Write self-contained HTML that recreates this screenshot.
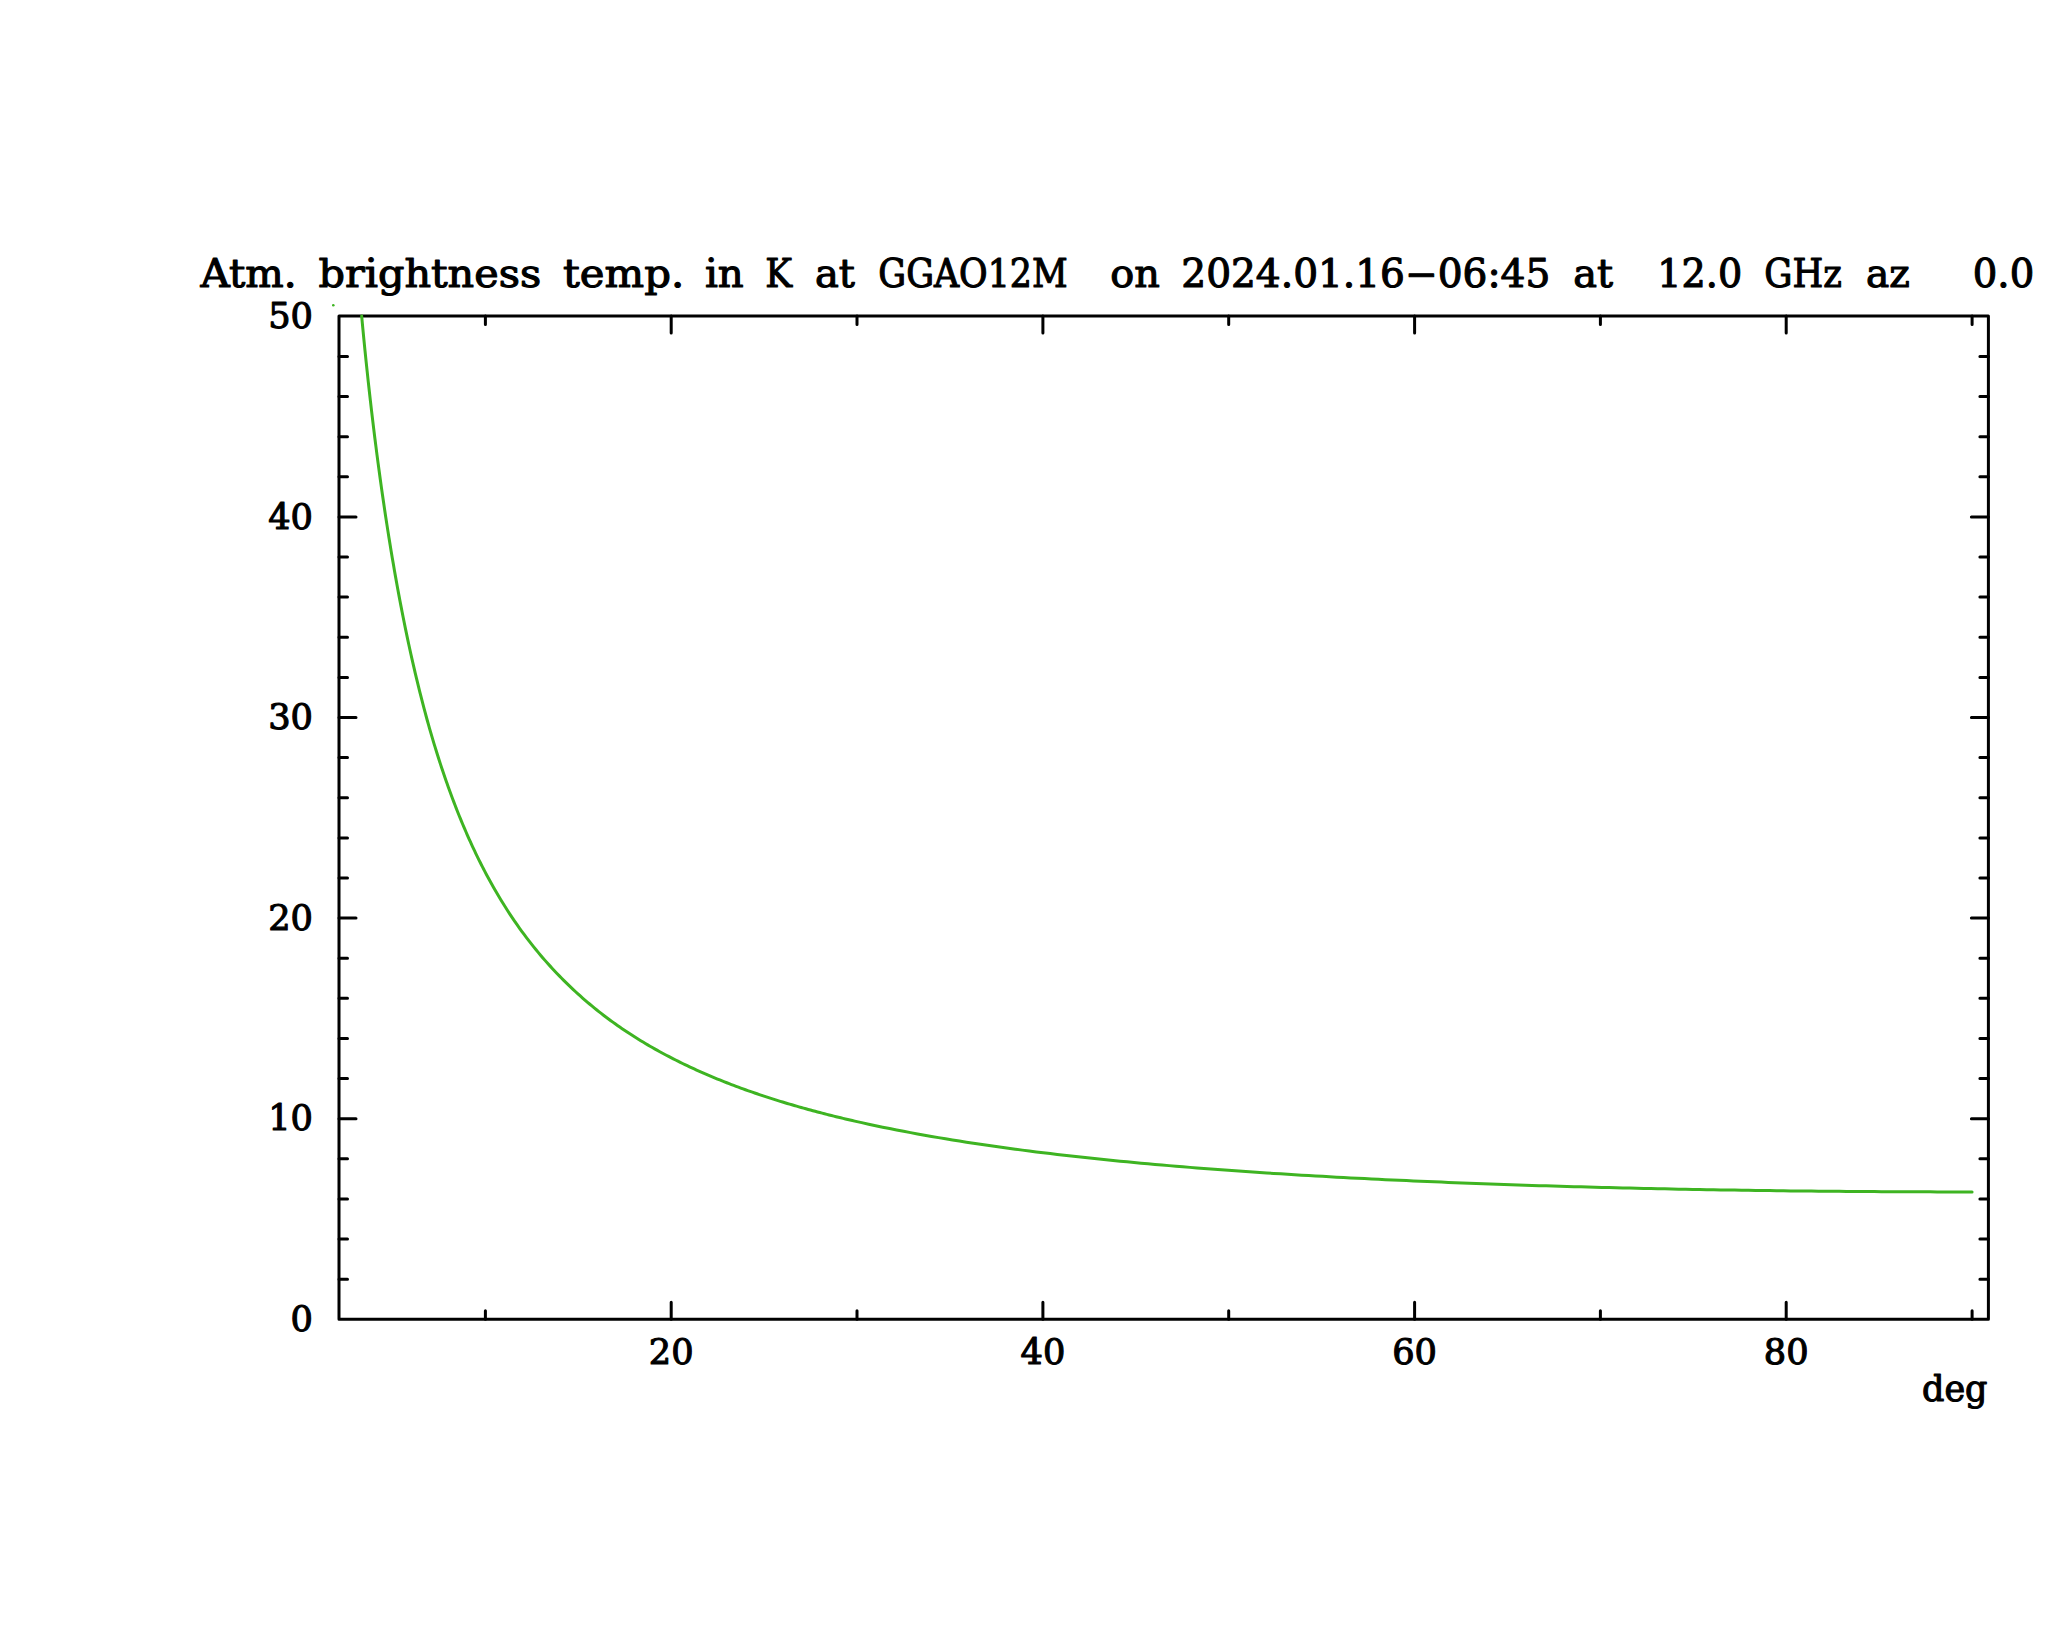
<!DOCTYPE html>
<html><head><meta charset="utf-8"><title>Atm. brightness temp.</title>
<style>
html,body{margin:0;padding:0;background:#fff}
svg{display:block}
text{font-family:"DejaVu Serif","Liberation Serif",serif;fill:#000;stroke:#000;stroke-width:1.1px;stroke-linejoin:round}
.t{font-size:38.3px}
.a{font-size:34.8px}
.d{font-size:35px}
</style></head><body>
<svg width="2048" height="1635" viewBox="0 0 2048 1635">
<rect width="2048" height="1635" fill="#fff"/>
<rect x="339.0" y="316.0" width="1649.4" height="1003.3" fill="none" stroke="#000" stroke-width="3" stroke-linejoin="round"/>
<path d="M485.4 1319.3L485.4 1310.8M485.4 316.0L485.4 324.5M671.2 1319.3L671.2 1302.3M671.2 316.0L671.2 333.0M857.0 1319.3L857.0 1310.8M857.0 316.0L857.0 324.5M1042.9 1319.3L1042.9 1302.3M1042.9 316.0L1042.9 333.0M1228.7 1319.3L1228.7 1310.8M1228.7 316.0L1228.7 324.5M1414.6 1319.3L1414.6 1302.3M1414.6 316.0L1414.6 333.0M1600.4 1319.3L1600.4 1310.8M1600.4 316.0L1600.4 324.5M1786.2 1319.3L1786.2 1302.3M1786.2 316.0L1786.2 333.0M1972.1 1319.3L1972.1 1310.8M1972.1 316.0L1972.1 324.5M339.0 1279.2L347.5 1279.2M1988.4 1279.2L1979.9 1279.2M339.0 1239.1L347.5 1239.1M1988.4 1239.1L1979.9 1239.1M339.0 1198.9L347.5 1198.9M1988.4 1198.9L1979.9 1198.9M339.0 1158.8L347.5 1158.8M1988.4 1158.8L1979.9 1158.8M339.0 1118.7L356.0 1118.7M1988.4 1118.7L1971.4 1118.7M339.0 1078.6L347.5 1078.6M1988.4 1078.6L1979.9 1078.6M339.0 1038.5L347.5 1038.5M1988.4 1038.5L1979.9 1038.5M339.0 998.3L347.5 998.3M1988.4 998.3L1979.9 998.3M339.0 958.2L347.5 958.2M1988.4 958.2L1979.9 958.2M339.0 918.1L356.0 918.1M1988.4 918.1L1971.4 918.1M339.0 878.0L347.5 878.0M1988.4 878.0L1979.9 878.0M339.0 837.9L347.5 837.9M1988.4 837.9L1979.9 837.9M339.0 797.7L347.5 797.7M1988.4 797.7L1979.9 797.7M339.0 757.6L347.5 757.6M1988.4 757.6L1979.9 757.6M339.0 717.5L356.0 717.5M1988.4 717.5L1971.4 717.5M339.0 677.4L347.5 677.4M1988.4 677.4L1979.9 677.4M339.0 637.3L347.5 637.3M1988.4 637.3L1979.9 637.3M339.0 597.1L347.5 597.1M1988.4 597.1L1979.9 597.1M339.0 557.0L347.5 557.0M1988.4 557.0L1979.9 557.0M339.0 516.9L356.0 516.9M1988.4 516.9L1971.4 516.9M339.0 476.8L347.5 476.8M1988.4 476.8L1979.9 476.8M339.0 436.7L347.5 436.7M1988.4 436.7L1979.9 436.7M339.0 396.5L347.5 396.5M1988.4 396.5L1979.9 396.5M339.0 356.4L347.5 356.4M1988.4 356.4L1979.9 356.4" fill="none" stroke="#000" stroke-width="3" stroke-linecap="round"/>
<path d="M361.66 316.00 L361.72 316.69 L362.82 328.34 L363.91 339.64 L365.00 350.62 L366.10 361.31 L367.19 371.71 L368.28 381.86 L369.38 391.76 L370.47 401.42 L371.56 410.87 L372.66 420.10 L373.75 429.13 L374.84 437.97 L375.94 446.62 L377.03 455.10 L378.12 463.40 L379.22 471.54 L380.31 479.52 L381.40 487.35 L382.49 495.03 L383.59 502.57 L384.68 509.97 L385.77 517.23 L386.87 524.36 L387.96 531.37 L389.05 538.25 L390.15 545.01 L391.24 551.65 L392.33 558.19 L393.43 564.60 L394.52 570.92 L395.61 577.12 L396.71 583.22 L397.80 589.23 L398.89 595.13 L399.99 600.94 L401.08 606.65 L402.17 612.28 L403.26 617.81 L404.36 623.26 L405.45 628.62 L406.54 633.90 L407.64 639.09 L408.73 644.21 L409.82 649.25 L410.92 654.21 L412.01 659.10 L413.10 663.91 L414.20 668.66 L415.29 673.33 L416.38 677.93 L417.48 682.47 L418.57 686.94 L419.66 691.35 L420.76 695.69 L421.85 699.97 L422.94 704.19 L424.04 708.35 L425.13 712.46 L426.22 716.50 L427.31 720.49 L428.41 724.43 L429.51 728.31 L430.61 732.13 L431.71 735.91 L432.82 739.63 L433.92 743.31 L435.02 746.93 L436.13 750.51 L437.23 754.04 L438.33 757.53 L439.44 760.96 L440.54 764.36 L441.64 767.71 L442.75 771.02 L443.85 774.28 L444.95 777.50 L446.06 780.69 L447.16 783.83 L448.26 786.93 L449.37 790.00 L450.47 793.02 L451.57 796.01 L452.68 798.97 L453.78 801.88 L454.88 804.77 L455.99 807.61 L457.09 810.43 L458.19 813.21 L459.30 815.95 L460.40 818.67 L461.50 821.35 L462.61 824.00 L463.71 826.62 L464.81 829.21 L465.92 831.77 L467.02 834.30 L468.12 836.80 L469.23 839.27 L470.33 841.72 L471.43 844.14 L472.54 846.53 L473.64 848.89 L474.74 851.23 L475.84 853.54 L476.95 855.83 L478.05 858.09 L479.15 860.33 L480.26 862.54 L481.36 864.73 L482.46 866.89 L483.57 869.04 L484.67 871.16 L486.55 874.71 L488.89 879.07 L491.24 883.33 L493.59 887.50 L495.94 891.58 L498.28 895.57 L500.63 899.48 L502.98 903.31 L505.33 907.06 L507.67 910.73 L510.02 914.32 L512.37 917.85 L514.72 921.30 L517.06 924.69 L519.41 928.01 L521.76 931.26 L524.10 934.45 L526.45 937.58 L528.80 940.65 L531.15 943.67 L533.49 946.62 L535.84 949.53 L538.19 952.37 L540.54 955.17 L542.88 957.92 L545.23 960.62 L547.58 963.27 L549.93 965.87 L552.27 968.43 L554.62 970.94 L556.97 973.42 L559.32 975.84 L561.65 978.23 L563.97 980.58 L566.30 982.89 L568.63 985.16 L570.95 987.39 L573.28 989.59 L575.60 991.75 L577.93 993.88 L580.26 995.97 L582.58 998.03 L584.91 1000.06 L587.23 1002.06 L589.56 1004.02 L591.88 1005.96 L594.21 1007.86 L596.54 1009.74 L598.86 1011.59 L601.19 1013.41 L603.51 1015.20 L605.84 1016.97 L608.17 1018.71 L610.49 1020.43 L612.82 1022.12 L615.14 1023.79 L617.47 1025.43 L619.80 1027.05 L622.12 1028.65 L624.45 1030.22 L626.77 1031.78 L629.10 1033.31 L631.43 1034.82 L633.75 1036.31 L636.08 1037.78 L638.40 1039.23 L640.73 1040.66 L643.06 1042.07 L645.38 1043.47 L647.71 1044.84 L650.03 1046.20 L652.36 1047.54 L654.68 1048.86 L657.01 1050.17 L659.34 1051.45 L661.66 1052.73 L663.99 1053.98 L666.31 1055.22 L668.64 1056.45 L670.97 1057.66 L673.29 1058.85 L675.62 1060.03 L677.94 1061.20 L680.27 1062.35 L682.60 1063.49 L684.92 1064.61 L687.25 1065.72 L689.57 1066.82 L691.90 1067.90 L694.23 1068.98 L696.55 1070.04 L698.88 1071.08 L701.20 1072.12 L703.53 1073.14 L705.86 1074.15 L708.18 1075.15 L710.51 1076.14 L712.83 1077.12 L715.16 1078.08 L717.48 1079.04 L719.81 1079.98 L722.14 1080.92 L724.46 1081.84 L726.79 1082.76 L729.11 1083.66 L731.44 1084.56 L733.77 1085.44 L736.09 1086.32 L738.42 1087.18 L740.74 1088.04 L743.07 1088.89 L745.40 1089.73 L747.72 1090.56 L750.05 1091.38 L752.37 1092.19 L754.70 1092.99 L757.03 1093.79 L759.35 1094.58 L761.68 1095.36 L764.00 1096.13 L766.33 1096.89 L768.65 1097.65 L770.98 1098.40 L773.31 1099.14 L775.63 1099.87 L777.96 1100.60 L780.28 1101.32 L782.61 1102.03 L784.94 1102.74 L787.26 1103.44 L789.59 1104.13 L791.91 1104.81 L794.24 1105.49 L796.57 1106.16 L798.89 1106.83 L801.22 1107.49 L803.54 1108.14 L805.87 1108.79 L808.20 1109.43 L810.52 1110.07 L812.85 1110.69 L815.17 1111.32 L817.50 1111.93 L819.83 1112.55 L822.15 1113.15 L824.48 1113.75 L826.80 1114.35 L829.13 1114.94 L831.45 1115.52 L833.78 1116.10 L836.11 1116.68 L838.43 1117.24 L840.76 1117.81 L843.08 1118.37 L845.41 1118.92 L847.74 1119.47 L850.06 1120.01 L852.39 1120.55 L854.71 1121.09 L857.04 1121.62 L861.69 1122.66 L868.67 1124.20 L875.65 1125.70 L882.64 1127.16 L889.62 1128.58 L896.60 1129.97 L903.59 1131.33 L910.57 1132.65 L917.55 1133.94 L924.54 1135.20 L931.52 1136.43 L938.51 1137.64 L945.49 1138.81 L952.47 1139.96 L959.46 1141.08 L966.44 1142.18 L973.42 1143.25 L980.41 1144.30 L987.39 1145.32 L994.37 1146.32 L1001.36 1147.30 L1008.34 1148.26 L1015.33 1149.20 L1022.31 1150.12 L1029.29 1151.02 L1036.28 1151.90 L1043.26 1152.76 L1050.24 1153.61 L1057.23 1154.43 L1064.21 1155.25 L1071.19 1156.04 L1078.18 1156.82 L1085.16 1157.58 L1092.15 1158.33 L1099.13 1159.06 L1106.11 1159.77 L1113.10 1160.48 L1120.08 1161.17 L1127.06 1161.84 L1134.05 1162.51 L1141.03 1163.16 L1148.01 1163.79 L1155.00 1164.42 L1161.98 1165.03 L1168.96 1165.63 L1175.95 1166.22 L1182.93 1166.80 L1189.92 1167.37 L1196.90 1167.93 L1203.88 1168.47 L1210.87 1169.01 L1217.85 1169.54 L1224.83 1170.05 L1231.82 1170.56 L1238.80 1171.06 L1245.78 1171.55 L1252.77 1172.03 L1259.75 1172.50 L1266.74 1172.96 L1273.72 1173.41 L1280.70 1173.86 L1287.69 1174.30 L1294.67 1174.72 L1301.65 1175.15 L1308.64 1175.56 L1315.62 1175.96 L1322.60 1176.36 L1329.59 1176.75 L1336.57 1177.14 L1343.56 1177.52 L1350.54 1177.89 L1357.52 1178.25 L1364.51 1178.61 L1371.49 1178.96 L1378.47 1179.30 L1385.46 1179.64 L1392.44 1179.97 L1399.42 1180.29 L1406.41 1180.61 L1413.39 1180.92 L1420.37 1181.23 L1427.36 1181.53 L1434.34 1181.83 L1441.33 1182.12 L1448.31 1182.40 L1455.29 1182.68 L1462.28 1182.96 L1469.26 1183.22 L1476.24 1183.49 L1483.23 1183.75 L1490.21 1184.00 L1497.19 1184.25 L1504.18 1184.49 L1511.16 1184.73 L1518.15 1184.96 L1525.13 1185.19 L1532.11 1185.42 L1539.10 1185.64 L1546.08 1185.85 L1553.06 1186.06 L1560.05 1186.27 L1567.03 1186.47 L1574.01 1186.67 L1581.00 1186.86 L1587.98 1187.05 L1594.97 1187.24 L1601.95 1187.42 L1608.93 1187.59 L1615.92 1187.77 L1622.90 1187.93 L1629.88 1188.10 L1636.87 1188.26 L1643.85 1188.42 L1650.83 1188.57 L1657.82 1188.72 L1664.80 1188.87 L1671.78 1189.01 L1678.77 1189.15 L1685.75 1189.28 L1692.74 1189.41 L1699.72 1189.54 L1706.70 1189.66 L1713.69 1189.78 L1720.67 1189.90 L1727.65 1190.01 L1734.64 1190.12 L1741.62 1190.23 L1748.60 1190.33 L1755.59 1190.43 L1762.57 1190.53 L1769.56 1190.62 L1776.54 1190.71 L1783.52 1190.79 L1790.51 1190.88 L1797.49 1190.96 L1804.47 1191.03 L1811.46 1191.11 L1818.44 1191.18 L1825.42 1191.24 L1832.41 1191.31 L1839.39 1191.37 L1846.38 1191.42 L1853.36 1191.48 L1860.34 1191.53 L1867.33 1191.58 L1874.31 1191.62 L1881.29 1191.66 L1888.28 1191.70 L1895.26 1191.73 L1902.24 1191.77 L1909.23 1191.80 L1916.21 1191.82 L1923.19 1191.84 L1930.18 1191.86 L1937.16 1191.88 L1944.15 1191.90 L1951.13 1191.91 L1958.11 1191.91 L1965.10 1191.92 L1972.08 1191.92" fill="none" stroke="#3eb422" stroke-width="3" stroke-linejoin="round" stroke-linecap="round"/>
<circle cx="333.3" cy="305.2" r="1.3" fill="#3eb422"/>
<text class="t" x="200.5" y="287.3" text-anchor="start" textLength="96.2" lengthAdjust="spacingAndGlyphs">Atm.</text>
<text class="t" x="318.5" y="287.3" text-anchor="start" textLength="222.6" lengthAdjust="spacingAndGlyphs">brightness</text>
<text class="t" x="563.1" y="287.3" text-anchor="start" textLength="121.1" lengthAdjust="spacingAndGlyphs">temp.</text>
<text class="t" x="704.9" y="287.3" text-anchor="start" textLength="38.8" lengthAdjust="spacingAndGlyphs">in</text>
<text class="t" x="765.3" y="287.3" text-anchor="start" textLength="26.8" lengthAdjust="spacingAndGlyphs">K</text>
<text class="t" x="814.9" y="287.3" text-anchor="start" textLength="40.0" lengthAdjust="spacingAndGlyphs">at</text>
<text class="t" x="878.3" y="287.3" text-anchor="start" textLength="189.4" lengthAdjust="spacingAndGlyphs">GGAO12M</text>
<text class="t" x="1110.3" y="287.3" text-anchor="start" textLength="49.6" lengthAdjust="spacingAndGlyphs">on</text>
<text class="t" x="1181.3" y="287.3" text-anchor="start" textLength="369.0" lengthAdjust="spacingAndGlyphs">2024.01.16−06:45</text>
<text class="t" x="1573.3" y="287.3" text-anchor="start" textLength="39.8" lengthAdjust="spacingAndGlyphs">at</text>
<text class="t" x="1657.3" y="287.3" text-anchor="start" textLength="84.9" lengthAdjust="spacingAndGlyphs">12.0</text>
<text class="t" x="1764.3" y="287.3" text-anchor="start" textLength="77.6" lengthAdjust="spacingAndGlyphs">GHz</text>
<text class="t" x="1866.1" y="287.3" text-anchor="start" textLength="43.8" lengthAdjust="spacingAndGlyphs">az</text>
<text class="t" x="1972.8" y="287.3" text-anchor="start" textLength="61.4" lengthAdjust="spacingAndGlyphs">0.0</text>
<text class="a" x="290.6" y="1330.9" text-anchor="start" textLength="22.4" lengthAdjust="spacingAndGlyphs">0</text>
<text class="a" x="268.2" y="1130.3" text-anchor="start" textLength="44.8" lengthAdjust="spacingAndGlyphs">10</text>
<text class="a" x="268.2" y="929.7" text-anchor="start" textLength="44.8" lengthAdjust="spacingAndGlyphs">20</text>
<text class="a" x="268.2" y="729.1" text-anchor="start" textLength="44.8" lengthAdjust="spacingAndGlyphs">30</text>
<text class="a" x="268.2" y="528.5" text-anchor="start" textLength="44.8" lengthAdjust="spacingAndGlyphs">40</text>
<text class="a" x="268.2" y="327.9" text-anchor="start" textLength="44.8" lengthAdjust="spacingAndGlyphs">50</text>
<text class="a" x="648.8" y="1364.0" text-anchor="start" textLength="44.8" lengthAdjust="spacingAndGlyphs">20</text>
<text class="a" x="1020.5" y="1364.0" text-anchor="start" textLength="44.8" lengthAdjust="spacingAndGlyphs">40</text>
<text class="a" x="1392.2" y="1364.0" text-anchor="start" textLength="44.8" lengthAdjust="spacingAndGlyphs">60</text>
<text class="a" x="1763.8" y="1364.0" text-anchor="start" textLength="44.8" lengthAdjust="spacingAndGlyphs">80</text>
<text class="d" x="1922.0" y="1400.8" text-anchor="start" textLength="65.5" lengthAdjust="spacingAndGlyphs">deg</text>
</svg>
</body></html>
